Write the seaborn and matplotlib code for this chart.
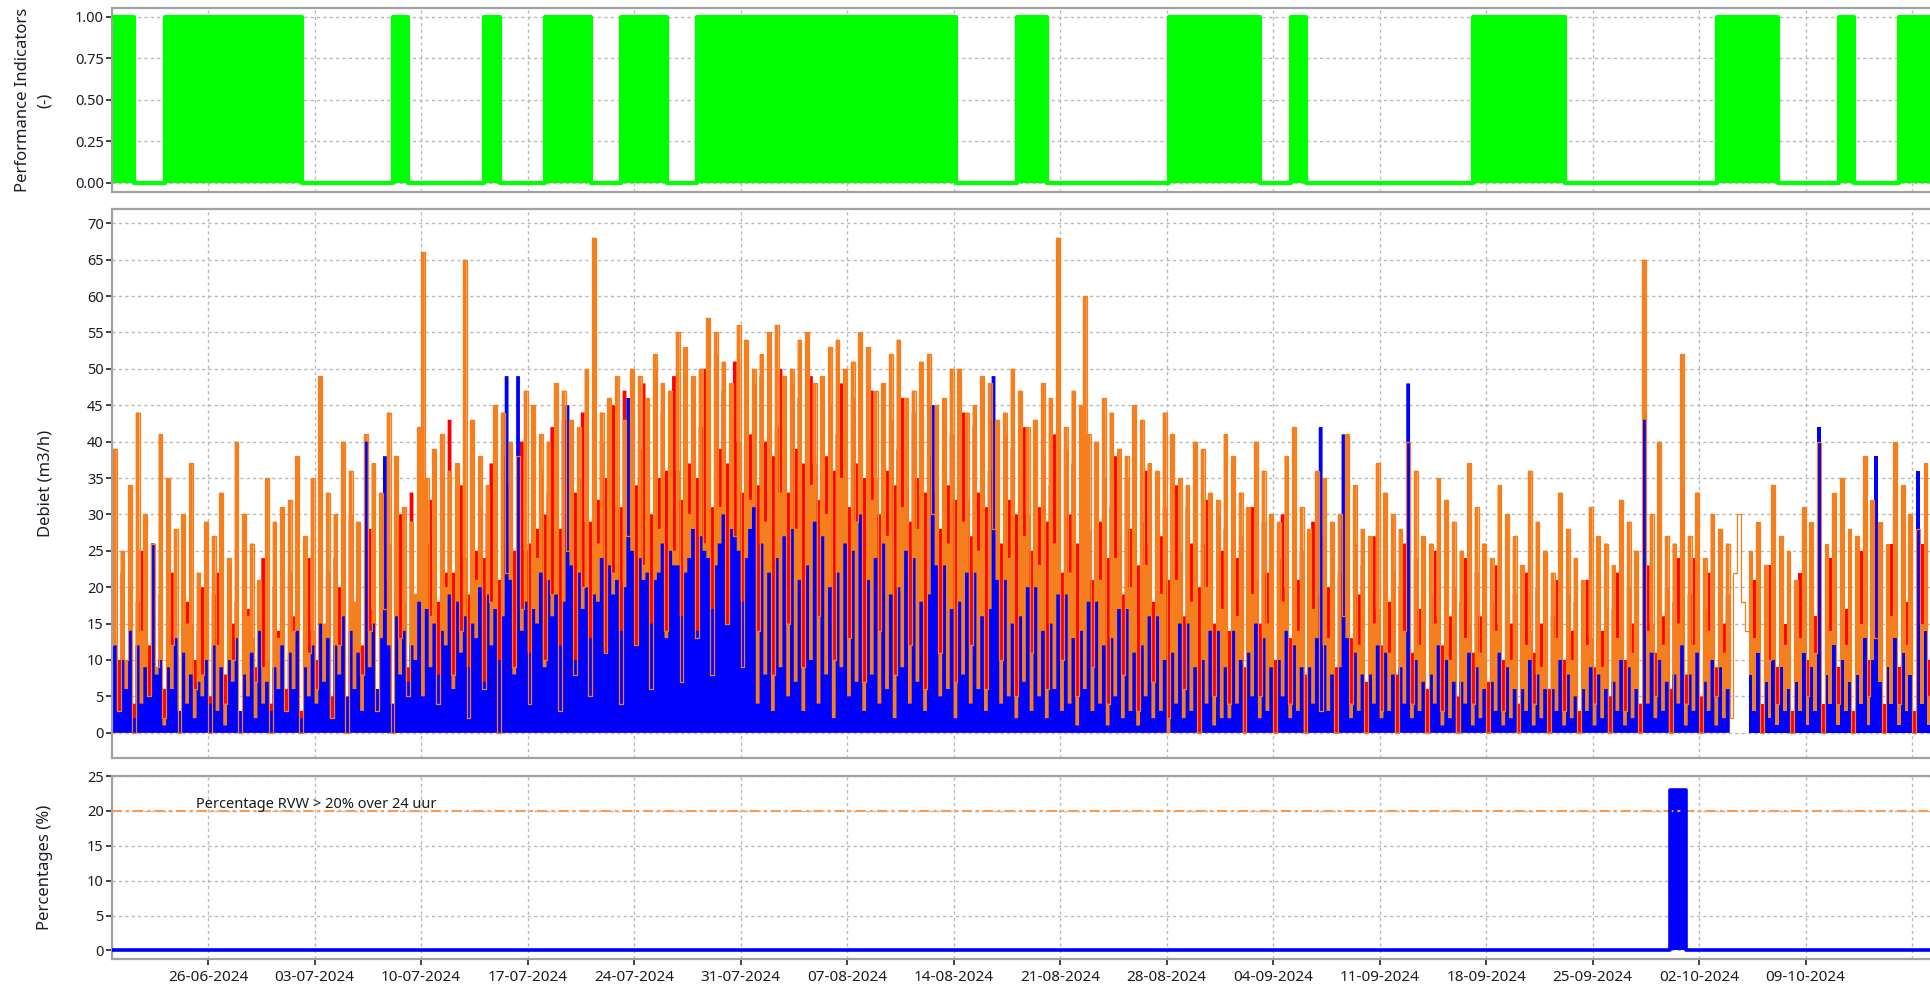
import numpy as np
import pandas as pd
import matplotlib
matplotlib.use("Agg")
import matplotlib.pyplot as plt
import matplotlib.dates as mdates
from matplotlib.ticker import FixedLocator, FuncFormatter
import seaborn as sns

# ---------------- DATA ----------------
# Debiet (m3/h), 6-hourly values (00h, 06h, 12h, 18h per day), starting 19-06-2024
orange_jun = [8, 28, 12, 39,  3, 25, 10, 34,  0, 44, 14, 30,  5, 26, 9, 41,  2, 35, 12, 28,  0, 30, 15, 37,
              6, 22, 8, 29,  0, 27, 12, 33,  4, 24, 10, 40,  0, 30, 16, 26,  7, 21, 9, 35,  0, 29, 13, 31]
orange_jul = [3, 32, 14, 38,  0, 27, 11, 35,  6, 49, 15, 33,  2, 30, 12, 40,  0, 36, 18, 29,  8, 41, 14, 37,
              3, 33, 17, 44,  0, 38, 13, 31,  5, 29, 19, 42,  66, 35, 16, 39,  4, 41, 20, 36,  8, 37, 14, 65,
              2, 43, 21, 38,  6, 34, 18, 45,  0, 44, 22, 40,  9, 38, 17, 47,  4, 45, 24, 41,  10, 40, 19, 48,
              3, 47, 25, 43,  8, 42, 20, 50,  5, 68, 26, 44,  11, 46, 22, 49,  4, 43, 27, 50,  12, 49, 23, 46,
              6, 52, 28, 48,  14, 47, 25, 55,  7, 53, 30, 49,  13, 50, 26, 57,  8, 55, 31, 51,  15, 48, 27, 56,
              9, 54, 32, 50]
orange_aug = [14, 52, 29, 55,  8, 56, 33, 49,  15, 50, 28, 54,  9, 55, 34, 48,  16, 49, 30, 53,  10, 54, 35, 50,
              13, 51, 29, 55,  7, 53, 32, 47,  14, 48, 27, 52,  8, 54, 31, 46,  12, 47, 28, 51,  6, 52, 30, 45,
              11, 46, 26, 50,  7, 50, 29, 44,  12, 45, 25, 49,  6, 48, 28, 43,  10, 44, 24, 50,  5, 47, 27, 42,
              11, 43, 23, 48,  6, 46, 26, 68,  10, 42, 22, 47,  5, 45, 60, 41,  9, 40, 21, 46,  4, 44, 24, 39,
              8, 38, 20, 45,  3, 43, 23, 37,  7, 36, 19, 44,  2, 41, 21, 35,  6, 34, 18, 40,  0, 39, 20, 33,
              5, 32, 17, 41]
orange_sep = [4, 38, 16, 33,  0, 31, 19, 40,  5, 36, 15, 30,  0, 29, 18, 38,  4, 42, 14, 31,  0, 28, 17, 36,
              3, 35, 13, 29,  0, 30, 16, 41,  4, 34, 12, 28,  0, 27, 15, 37,  3, 33, 11, 30,  0, 28, 14, 40,
              4, 36, 12, 27,  0, 26, 15, 35,  3, 32, 10, 29,  0, 25, 13, 37,  4, 31, 11, 26,  0, 24, 14, 34,
              3, 30, 10, 27,  0, 23, 12, 36,  4, 29, 9, 25,  0, 22, 13, 33,  3, 28, 10, 24,  0, 21, 12, 31,
              4, 27, 9, 26,  0, 23, 13, 32,  3, 29, 11, 25,  0, 65, 14, 30,  5, 40, 12, 27,  0, 26, 15, 52]
orange_oct = [4, 27, 12, 33,  0, 24, 14, 30,  5, 28, 11, 26,  2, 22, 30, 18,  14, 25, 13, 29,  0, 23, 10, 34,
              4, 27, 12, 25,  0, 21, 13, 31,  5, 29, 11, 40,  0, 26, 14, 33,  4, 35, 12, 28,  0, 27, 15, 38,
              5, 32, 13, 29,  0, 26, 16, 40,  4, 34, 12, 30,  0, 28, 15, 37,  5, 33, 12, 29,  0, 27, 14, 35]

red_jun = [18, 15, 24, 12,  10, 22, 8, 20,  4, 18, 25, 14,  12, 23, 6, 19,  6, 16, 22, 11,  3, 24, 18, 15,
           10, 14, 20, 8,  5, 19, 22, 12,  8, 23, 15, 18,  2, 21, 17, 13,  9, 15, 24, 10,  4, 20, 14, 22]
red_jul = [6, 22, 16, 25,  3, 18, 24, 14,  10, 27, 13, 22,  5, 24, 20, 29,  2, 30, 15, 23,  12, 25, 28, 17,
           6, 32, 21, 26,  3, 24, 30, 18,  9, 33, 17, 28,  20, 26, 32, 20,  18, 35, 22, 43,  22, 28, 34, 24,
           19, 36, 25, 31,  24, 30, 37, 22,  21, 38, 26, 34,  25, 31, 40, 25,  26, 41, 28, 36,  30, 33, 42, 27,
           28, 43, 30, 38,  33, 35, 44, 29,  29, 46, 32, 40,  35, 37, 45, 31,  31, 47, 33, 42,  34, 39, 48, 34,
           30, 50, 35, 44,  36, 41, 49, 36,  32, 51, 37, 46,  35, 42, 50, 38,  31, 52, 39, 47,  37, 44, 51, 40,
           33, 53, 41, 48]
red_aug = [34, 49, 40, 45,  38, 42, 50, 38,  33, 48, 39, 46,  37, 43, 49, 37,  32, 47, 38, 45,  36, 41, 48, 36,
           31, 46, 37, 44,  35, 40, 47, 35,  30, 45, 36, 43,  34, 39, 46, 34,  29, 44, 35, 42,  33, 38, 45, 33,
           28, 43, 34, 41,  32, 37, 44, 32,  27, 42, 33, 40,  31, 36, 43, 31,  26, 41, 32, 39,  30, 35, 42, 30,
           25, 40, 31, 38,  29, 34, 41, 29,  22, 39, 30, 37,  26, 33, 40, 28,  21, 37, 29, 35,  24, 31, 38, 27,
           19, 35, 28, 33,  23, 29, 36, 26,  18, 33, 27, 31,  21, 27, 34, 25,  16, 31, 26, 29,  20, 26, 32, 24,
           15, 30, 25, 28]
red_sep = [14, 30, 24, 27,  9, 26, 31, 21,  15, 29, 22, 26,  10, 24, 30, 20,  13, 28, 21, 25,  8, 23, 29, 19,
           12, 27, 20, 24,  9, 22, 28, 18,  13, 26, 19, 23,  7, 21, 27, 17,  12, 25, 18, 22,  8, 20, 26, 17,
           11, 24, 17, 21,  6, 19, 25, 16,  12, 23, 16, 20,  5, 18, 24, 15,  11, 22, 16, 19,  7, 18, 23, 15,
           10, 21, 15, 19,  4, 17, 22, 14,  11, 20, 15, 18,  6, 16, 21, 14,  10, 19, 14, 18,  3, 16, 21, 13,
           9, 19, 14, 17,  5, 17, 22, 14,  10, 20, 15, 19,  4, 44, 23, 15,  11, 21, 16, 20,  6, 18, 24, 34]
red_oct = [8, 19, 24, 15,  5, 17, 22, 14,  9, 20, 15, 19,  12, 25, 16, 22,  18, 14, 21, 15,  4, 18, 23, 14,
           9, 20, 15, 19,  3, 17, 22, 14,  10, 21, 16, 27,  4, 19, 24, 15,  9, 23, 17, 21,  3, 19, 25, 16,
           10, 24, 17, 22,  4, 20, 26, 16,  9, 24, 18, 22,  3, 20, 26, 17,  10, 23, 17, 21,  4, 19, 25, 16]

nan = float("nan")
blue_jun = [7, 15, 5, 12,  3, 10, 6, 14,  2, 12, 4, 9,  5, 26, 8, 10,  1, 9, 6, 13,  3, 11, 4, 8,
            2, 7, 5, 10,  4, 12, 3, 9,  1, 10, 7, 13,  3, 8, 5, 11,  2, 14, 4, 7,  3, 9, 6, 12]
blue_jul = [3, 11, 6, 14,  2, 9, 5, 12,  4, 15, 7, 13,  2, 12, 8, 16,  5, 14, 6, 11,  3, 40, 9, 15,
            6, 13, 38, 12,  4, 16, 8, 14,  7, 12, 10, 18,  5, 17, 9, 15,  8, 14, 12, 19,  6, 18, 11, 16,
            9, 15, 13, 20,  7, 19, 12, 17,  10, 16, 49, 21,  8, 49, 14, 18,  11, 17, 15, 22,  9, 21, 16, 19,
            12, 18, 45, 23,  10, 22, 17, 20,  13, 19, 18, 24,  11, 23, 19, 21,  14, 20, 46, 25,  12, 24, 21, 22,
            15, 21, 22, 26,  13, 25, 23, 23,  16, 22, 24, 28,  14, 27, 25, 24,  17, 23, 26, 30,  15, 28, 27, 25,
            18, 24, 28, 31]
blue_aug = [4, 26, 8, 22,  3, 24, 9, 27,  5, 28, 7, 21,  3, 23, 10, 29,  4, 27, 8, 20,  2, 22, 9, 26,
            5, 25, 7, 30,  3, 21, 8, 24,  4, 26, 6, 19,  2, 20, 9, 25,  4, 24, 7, 18,  3, 19, 45, 23,
            5, 23, 6, 17,  2, 18, 8, 22,  4, 22, 6, 16,  3, 17, 49, 21,  4, 21, 5, 15,  2, 16, 7, 20,
            3, 20, 5, 14,  2, 15, 6, 19,  3, 19, 4, 13,  1, 14, 6, 18,  3, 18, 4, 12,  1, 13, 5, 17,
            2, 17, 3, 11,  1, 12, 5, 16,  2, 16, 3, 10,  0, 11, 4, 15,  2, 15, 3, 9,  0, 10, 4, 14,
            1, 14, 2, 9]
blue_sep = [2, 14, 4, 10,  0, 11, 5, 15,  2, 13, 3, 9,  0, 10, 5, 14,  2, 12, 3, 9,  0, 9, 4, 13,
            42, 12, 3, 8,  0, 9, 41, 13,  2, 11, 3, 8,  0, 8, 4, 12,  2, 11, 3, 8,  0, 9, 4, 48,
            2, 10, 3, 7,  0, 8, 4, 12,  1, 10, 2, 7,  0, 7, 4, 11,  1, 9, 2, 6,  0, 7, 3, 11,
            1, 9, 2, 6,  0, 6, 3, 10,  1, 8, 2, 6,  0, 6, 3, 10,  1, 8, 2, 5,  0, 6, 3, 9,
            1, 8, 2, 6,  0, 7, 3, 10,  1, 9, 2, 6,  0, 43, 4, 11,  2, 10, 3, 7,  0, 8, 4, 12]
blue_oct = [1, 8, 3, 11,  0, 7, 3, 10,  1, 9, 2, 6,  0, nan, nan, nan,  nan, 8, 3, 11,  0, 7, 2, 10,
            1, 9, 3, 6,  0, 7, 3, 11,  1, 9, 3, 42,  0, 8, 4, 12,  1, 10, 3, 7,  0, 8, 4, 13,
            1, 10, 38, 7,  0, 9, 4, 13,  1, 11, 3, 8,  0, 36, 4, 14,  1, 11, 3, 8,  0, 9, 4, 13]

# Performance indicator, one value per day (19-06-2024 .. 18-10-2024)
pi_jun = [1, 1, 0, 0, 1, 1, 1, 1, 1, 1, 1, 1]
pi_jul = [1, 0, 0, 0, 0, 0, 0, 1, 0, 0, 0, 0, 0, 1, 0, 0, 0, 1, 1, 1, 0, 0, 1, 1, 1, 0, 0, 1, 1, 1, 1]
pi_aug = [1, 1, 1, 1, 1, 1, 1, 1, 1, 1, 1, 1, 1, 0, 0, 0, 0, 1, 1, 0, 0, 0, 0, 0, 0, 0, 0, 1, 1, 1, 1]
pi_sep = [1, 1, 0, 0, 1, 0, 0, 0, 0, 0, 0, 0, 0, 0, 0, 0, 1, 1, 1, 1, 1, 1, 0, 0, 0, 0, 0, 0, 0, 0]
pi_oct = [0, 0, 1, 1, 1, 1, 0, 0, 0, 0, 1, 0, 0, 0, 1, 1, 1, 1]

# Percentage RVW > 20% over 24 uur
pct_times = ["2024-06-19 00:00", "2024-09-30 02:00", "2024-10-01 04:00", "2024-10-18 23:00"]
pct_values = [0, 23, 0, 0]
pct_threshold = 20
threshold_label = "Percentage RVW > 20% over 24 uur"

week_ticks = ["2024-06-26", "2024-07-03", "2024-07-10", "2024-07-17", "2024-07-24", "2024-07-31",
              "2024-08-07", "2024-08-14", "2024-08-21", "2024-08-28", "2024-09-04", "2024-09-11",
              "2024-09-18", "2024-09-25", "2024-10-02", "2024-10-09"]
extra_grid = ["2024-10-16"]

# ---------------- BUILD ----------------
orange = np.array(orange_jun + orange_jul + orange_aug + orange_sep + orange_oct, dtype=float)
red = np.array(red_jun + red_jul + red_aug + red_sep + red_oct, dtype=float)
blue = np.array(blue_jun + blue_jul + blue_aug + blue_sep + blue_oct, dtype=float)
pi = pi_jun + pi_jul + pi_aug + pi_sep + pi_oct

t6 = pd.date_range("2024-06-19 00:00", periods=len(orange), freq="6h")
tday = pd.date_range("2024-06-19 04:00", periods=len(pi), freq="D")
valid = ~np.isnan(blue)

df_orange = pd.DataFrame({"tijd": t6, "debiet": orange})
df_pi = pd.DataFrame({"tijd": tday, "pi": pi})
df_pct = pd.DataFrame({"tijd": pd.to_datetime(pct_times), "pct": pct_values})

# ---------------- STYLE ----------------
sns.set_theme(style="white")
plt.rcParams["font.family"] = ["Noto Sans", "DejaVu Sans"]
TXT = "#1c1c28"
GRID = "#b9b9b9"
SPINE = "#a2a2a2"
ORANGE = "#F57F1F"

fig = plt.figure(figsize=(19.31, 9.88), dpi=100)
L = 112 / 1931
W = (1950 - 112) / 1931
ax1 = fig.add_axes([L, 1 - 192 / 988, W, 184 / 988])
ax2 = fig.add_axes([L, 1 - 758 / 988, W, 549 / 988], sharex=ax1)
ax3 = fig.add_axes([L, 1 - 959 / 988, W, 183 / 988], sharex=ax1)

# top panel: performance indicators
ax1.fill_between(df_pi["tijd"], 0, df_pi["pi"], step="post", color="#00FF00", lw=0, zorder=2)
sns.lineplot(data=df_pi, x="tijd", y="pi", color="#00FF00", lw=3.0, drawstyle="steps-post",
             estimator=None, ax=ax1, zorder=3)

# middle panel: debiet (red behind orange behind blue, thin orange trace on top)
ax2.fill_between(t6, 0, red, where=valid, step="post", color="#FF0000", lw=0, zorder=2.0)
ax2.fill_between(t6, 0, orange, where=valid, step="post", color=ORANGE, lw=0, zorder=2.1)
ax2.fill_between(t6, 0, blue, step="post", color="#0000FF", lw=0, zorder=2.2)
sns.lineplot(data=df_orange, x="tijd", y="debiet", color=ORANGE, lw=0.9, drawstyle="steps-post",
             estimator=None, legend=False, ax=ax2, zorder=2.3)

# bottom panel: percentages
ax3.fill_between(df_pct["tijd"], 0, df_pct["pct"], step="post", color="#0000FF", lw=0, zorder=2)
sns.lineplot(data=df_pct, x="tijd", y="pct", color="#0000FF", lw=2.6, drawstyle="steps-post",
             estimator=None, ax=ax3, zorder=3)
ax3.axhline(pct_threshold, color="#FF9A4A", lw=1.5, linestyle=(0, (4.8, 2.0, 1.4, 2.0)), zorder=2.5)
ax3.text(0.0455, pct_threshold + 0.35, threshold_label, transform=ax3.get_yaxis_transform(),
         fontsize=10.5, color="#1a1a1a", va="baseline", ha="left")

# axes
x0 = pd.Timestamp("2024-06-19 16:34")
x1 = pd.Timestamp("2024-10-18 11:40")
ax1.set_xlim(x0, x1)
ax1.set_ylim(-0.056, 1.052)
ax2.set_ylim(-3.47, 71.96)
ax3.set_ylim(-1.23, 25.0)

ax1.set_yticks([0, 0.25, 0.5, 0.75, 1.0])
ax1.yaxis.set_major_formatter(FuncFormatter(lambda v, p: f"{v:.2f}"))
ax2.set_yticks(np.arange(0, 71, 5))
ax3.set_yticks(np.arange(0, 26, 5))

major = mdates.date2num(pd.to_datetime(week_ticks))
minor = mdates.date2num(pd.to_datetime(extra_grid))
ax3.xaxis.set_major_locator(FixedLocator(major))
ax3.xaxis.set_minor_locator(FixedLocator(minor))
ax3.xaxis.set_major_formatter(mdates.DateFormatter("%d-%m-%Y"))

for ax in (ax1, ax2, ax3):
    ax.set_axisbelow(True)
    ax.grid(True, which="both", axis="x", color=GRID, lw=1.0, linestyle=(0, (2.3, 2.3)))
    ax.grid(True, which="major", axis="y", color=GRID, lw=1.0, linestyle=(0, (2.3, 2.3)))
    for s in ax.spines.values():
        s.set_color(SPINE)
        s.set_linewidth(1.6)
    ax.tick_params(axis="y", which="major", direction="out", length=4, width=1.2, color="#202020",
                   labelsize=10.5, labelcolor=TXT, pad=2, left=True)
    ax.tick_params(axis="x", which="minor", length=0)
    ax.set_xlabel("")

for ax in (ax1, ax2):
    ax.tick_params(axis="x", which="both", length=0, labelbottom=False)
ax3.tick_params(axis="x", which="major", direction="out", length=4, width=1.2, color="#202020",
                labelsize=11, labelcolor=TXT, pad=4, bottom=True)

ax1.set_ylabel("Performance Indicators\n(-)", fontsize=12, color=TXT, linespacing=1.5)
ax2.set_ylabel("Debiet (m3/h)", fontsize=12, color=TXT)
ax3.set_ylabel("Percentages (%)", fontsize=12, color=TXT)
for ax in (ax1, ax2, ax3):
    ax.yaxis.set_label_coords(-0.032, 0.5)

fig.savefig("out.png", dpi=100)
